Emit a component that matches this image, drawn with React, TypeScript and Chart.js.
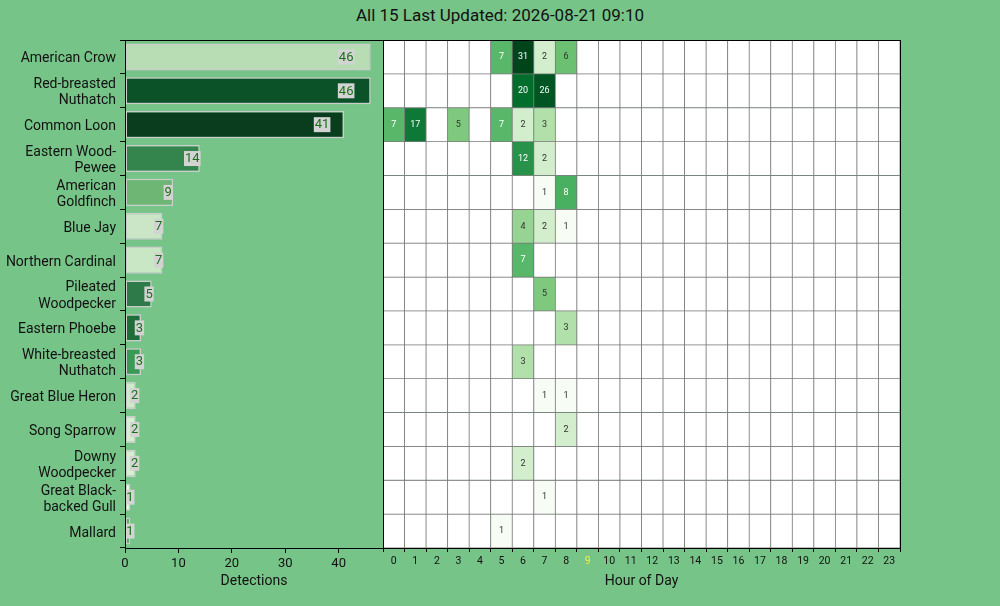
import { useEffect, useRef } from 'react';
import { Chart, registerables } from 'chart.js';

Chart.register(...registerables);
Chart.defaults.font.family = 'Roboto';
Chart.defaults.color = '#111';

const species = [
  'American Crow',
  ['Red-breasted', 'Nuthatch'],
  'Common Loon',
  ['Eastern Wood-', 'Pewee'],
  ['American', 'Goldfinch'],
  'Blue Jay',
  'Northern Cardinal',
  ['Pileated', 'Woodpecker'],
  'Eastern Phoebe',
  ['White-breasted', 'Nuthatch'],
  'Great Blue Heron',
  'Song Sparrow',
  ['Downy', 'Woodpecker'],
  ['Great Black-', 'backed Gull'],
  'Mallard',
];

const detections = [46, 46, 41, 14, 9, 7, 7, 5, 3, 3, 2, 2, 2, 1, 1];

const barColors = [
  '#b8dcb4', '#0b5229', '#0a3d1e', '#33844d', '#6db673',
  '#cbe6c7', '#c9e6c5', '#2e7a48', '#1f6e3a', '#3a9a55',
  '#cfe9cb', '#d8eed3', '#d6eed2', '#f3faf0', '#5aab63',
];

const hours = [
  '0', '1', '2', '3', '4', '5', '6', '7', '8', '9', '10', '11',
  '12', '13', '14', '15', '16', '17', '18', '19', '20', '21', '22', '23',
];

// counts per species, one entry per hour 0..23
const hourly = [
  [0, 0, 0, 0, 0, 7, 31, 2, 6, 0, 0, 0, 0, 0, 0, 0, 0, 0, 0, 0, 0, 0, 0, 0],
  [0, 0, 0, 0, 0, 0, 20, 26, 0, 0, 0, 0, 0, 0, 0, 0, 0, 0, 0, 0, 0, 0, 0, 0],
  [7, 17, 0, 5, 0, 7, 2, 3, 0, 0, 0, 0, 0, 0, 0, 0, 0, 0, 0, 0, 0, 0, 0, 0],
  [0, 0, 0, 0, 0, 0, 12, 2, 0, 0, 0, 0, 0, 0, 0, 0, 0, 0, 0, 0, 0, 0, 0, 0],
  [0, 0, 0, 0, 0, 0, 0, 1, 8, 0, 0, 0, 0, 0, 0, 0, 0, 0, 0, 0, 0, 0, 0, 0],
  [0, 0, 0, 0, 0, 0, 4, 2, 1, 0, 0, 0, 0, 0, 0, 0, 0, 0, 0, 0, 0, 0, 0, 0],
  [0, 0, 0, 0, 0, 0, 7, 0, 0, 0, 0, 0, 0, 0, 0, 0, 0, 0, 0, 0, 0, 0, 0, 0],
  [0, 0, 0, 0, 0, 0, 0, 5, 0, 0, 0, 0, 0, 0, 0, 0, 0, 0, 0, 0, 0, 0, 0, 0],
  [0, 0, 0, 0, 0, 0, 0, 0, 3, 0, 0, 0, 0, 0, 0, 0, 0, 0, 0, 0, 0, 0, 0, 0],
  [0, 0, 0, 0, 0, 0, 3, 0, 0, 0, 0, 0, 0, 0, 0, 0, 0, 0, 0, 0, 0, 0, 0, 0],
  [0, 0, 0, 0, 0, 0, 0, 1, 1, 0, 0, 0, 0, 0, 0, 0, 0, 0, 0, 0, 0, 0, 0, 0],
  [0, 0, 0, 0, 0, 0, 0, 0, 2, 0, 0, 0, 0, 0, 0, 0, 0, 0, 0, 0, 0, 0, 0, 0],
  [0, 0, 0, 0, 0, 0, 2, 0, 0, 0, 0, 0, 0, 0, 0, 0, 0, 0, 0, 0, 0, 0, 0, 0],
  [0, 0, 0, 0, 0, 0, 0, 1, 0, 0, 0, 0, 0, 0, 0, 0, 0, 0, 0, 0, 0, 0, 0, 0],
  [0, 0, 0, 0, 0, 1, 0, 0, 0, 0, 0, 0, 0, 0, 0, 0, 0, 0, 0, 0, 0, 0, 0, 0],
];

const currentHour = 9;
const title = 'All 15 Last Updated: 2026-08-21 09:10';

const BG = '#77c488';
const GREENS = ['#f7fcf5', '#e5f5e0', '#c7e9c0', '#a1d99b', '#74c476', '#41ab5d', '#238b45', '#006d2c', '#00441b'];

const hexToRgb = (h: string) => [1, 3, 5].map((i) => parseInt(h.slice(i, i + 2), 16));

// log-normalised position of a count in the colour scale
const vmax = Math.max(...hourly.flat());
const level = (v: number) => (v <= 0 ? 0 : Math.log(v) / Math.log(vmax));

const greens = (t: number) => {
  const p = Math.min(Math.max(t, 0), 1) * (GREENS.length - 1);
  const i = Math.min(Math.floor(p), GREENS.length - 2);
  const f = p - i;
  const a = hexToRgb(GREENS[i]);
  const b = hexToRgb(GREENS[i + 1]);
  const c = a.map((x, k) => Math.round(x + (b[k] - x) * f));
  return `rgb(${c[0]},${c[1]},${c[2]})`;
};

const framePlugin = {
  id: 'frame',
  afterDraw: (chart: Chart) => {
    const { ctx, chartArea: a } = chart;
    ctx.save();
    ctx.strokeStyle = '#000';
    ctx.lineWidth = 1;
    ctx.strokeRect(Math.round(a.left) + 0.5, Math.round(a.top) + 0.5, Math.round(a.right - a.left), Math.round(a.bottom - a.top));
    ctx.restore();
  },
};

const barLabelPlugin = {
  id: 'barLabels',
  afterDatasetsDraw: (chart: Chart) => {
    const { ctx } = chart;
    const xs = chart.scales.x;
    const meta = chart.getDatasetMeta(0);
    ctx.save();
    ctx.font = '13px Roboto';
    ctx.textAlign = 'center';
    ctx.textBaseline = 'middle';
    meta.data.forEach((el: any, i: number) => {
      const v = detections[i];
      const cx = xs.getPixelForValue(v * 0.9);
      const txt = String(v);
      const w = ctx.measureText(txt).width + 2;
      ctx.fillStyle = '#d3d3d3';
      ctx.fillRect(cx - w / 2, el.y - 7.5, w, 15);
      ctx.fillStyle = '#1a701a';
      ctx.fillText(txt, cx, el.y + 0.5);
    });
    ctx.restore();
  },
};

const cellLabelPlugin = {
  id: 'cellLabels',
  afterDatasetsDraw: (chart: Chart) => {
    const { ctx } = chart;
    ctx.save();
    ctx.font = '9px Roboto';
    ctx.textAlign = 'center';
    ctx.textBaseline = 'middle';
    hourly.forEach((row, r) => {
      const meta = chart.getDatasetMeta(r);
      row.forEach((v, h) => {
        if (!v) return;
        const el: any = meta.data[h];
        ctx.fillStyle = level(v) > 0.55 ? '#fff' : '#333';
        ctx.fillText(String(v), el.x, (el.y + el.base) / 2);
      });
    });
    ctx.restore();
  },
};

export default function App() {
  const barRef = useRef<HTMLCanvasElement | null>(null);
  const heatRef = useRef<HTMLCanvasElement | null>(null);

  useEffect(() => {
    if (!barRef.current || !heatRef.current) return;

    const bar = new Chart(barRef.current, {
      type: 'bar',
      data: {
        labels: species as any,
        datasets: [
          {
            data: detections,
            backgroundColor: barColors,
            borderColor: '#cccccc',
            borderWidth: 1.5,
            borderSkipped: false,
            barPercentage: 0.8,
            categoryPercentage: 1,
          },
        ],
      },
      options: {
        indexAxis: 'y',
        responsive: false,
        animation: false,
        layout: { padding: { left: 0, right: 617, top: 40, bottom: 12 } },
        plugins: { legend: { display: false }, tooltip: { enabled: false } },
        scales: {
          x: {
            type: 'linear',
            min: 0,
            max: 48.3,
            ticks: { stepSize: 10, font: { size: 13 }, color: '#111', padding: 3, autoSkip: false, maxRotation: 0 },
            afterBuildTicks: (s: any) => {
              s.ticks = s.ticks.filter((t: any) => t.value % 10 === 0);
            },
            afterFit: (s: any) => {
              s.height = 46;
            },
            grid: { drawOnChartArea: false, drawTicks: true, tickLength: 5, color: '#000' },
            border: { display: false },
            title: { display: true, text: 'Detections', font: { size: 14 }, color: '#111', padding: { top: 2, bottom: 4 } },
          },
          y: {
            type: 'category',
            ticks: { font: { size: 14, lineHeight: 1.15 }, color: '#111', padding: 4, autoSkip: false, labelOffset: 2 },
            afterFit: (s: any) => {
              s.width = 125;
            },
            grid: { drawOnChartArea: false, drawTicks: true, tickLength: 5, color: '#000' },
            border: { display: false },
          },
        },
      },
      plugins: [framePlugin, barLabelPlugin],
    });

    const heat = new Chart(heatRef.current, {
      type: 'bar',
      data: {
        labels: hours,
        datasets: hourly.map((row, r) => ({
          data: row.map(() => [r, r + 1]) as any,
          backgroundColor: row.map((v) => (v > 0 ? greens(level(v)) : '#ffffff')),
          borderColor: '#7a7a7a',
          borderWidth: 0.75,
          borderSkipped: false,
          barPercentage: 1,
          categoryPercentage: 1,
          grouped: false,
        })),
      },
      options: {
        responsive: false,
        animation: false,
        layout: { padding: { left: 383, right: 100, top: 40, bottom: 12 } },
        plugins: { legend: { display: false }, tooltip: { enabled: false } },
        scales: {
          x: {
            type: 'category',
            ticks: {
              font: { size: 10.5 },
              color: (c: any) => (c.index === currentHour ? '#f2f230' : '#111'),
              padding: 3,
              maxRotation: 0,
              autoSkip: false,
            },
            afterFit: (s: any) => {
              s.height = 46;
            },
            grid: { drawOnChartArea: false, drawTicks: true, tickLength: 4, color: '#000' },
            border: { display: false },
            title: { display: true, text: 'Hour of Day', font: { size: 14 }, color: '#111', padding: { top: 2, bottom: 4 } },
          },
          y: {
            type: 'linear',
            min: 0,
            max: species.length,
            reverse: true,
            display: false,
          },
        },
      },
      plugins: [framePlugin, cellLabelPlugin],
    });

    return () => {
      bar.destroy();
      heat.destroy();
    };
  }, []);

  return (
    <div style={{ position: 'fixed', left: 0, top: 0, width: 1000, height: 606, background: BG, overflow: 'hidden' }}>
      <div
        style={{
          position: 'absolute',
          top: 4,
          left: 0,
          width: 1000,
          textAlign: 'center',
          font: '17px Roboto',
          color: '#111',
          lineHeight: '22px',
        }}
      >
        {title}
      </div>
      <canvas ref={barRef} width={1000} height={606} style={{ position: 'absolute', left: 0, top: 0, width: 1000, height: 606 }} />
      <canvas ref={heatRef} width={1000} height={606} style={{ position: 'absolute', left: 0, top: 0, width: 1000, height: 606 }} />
    </div>
  );
}
